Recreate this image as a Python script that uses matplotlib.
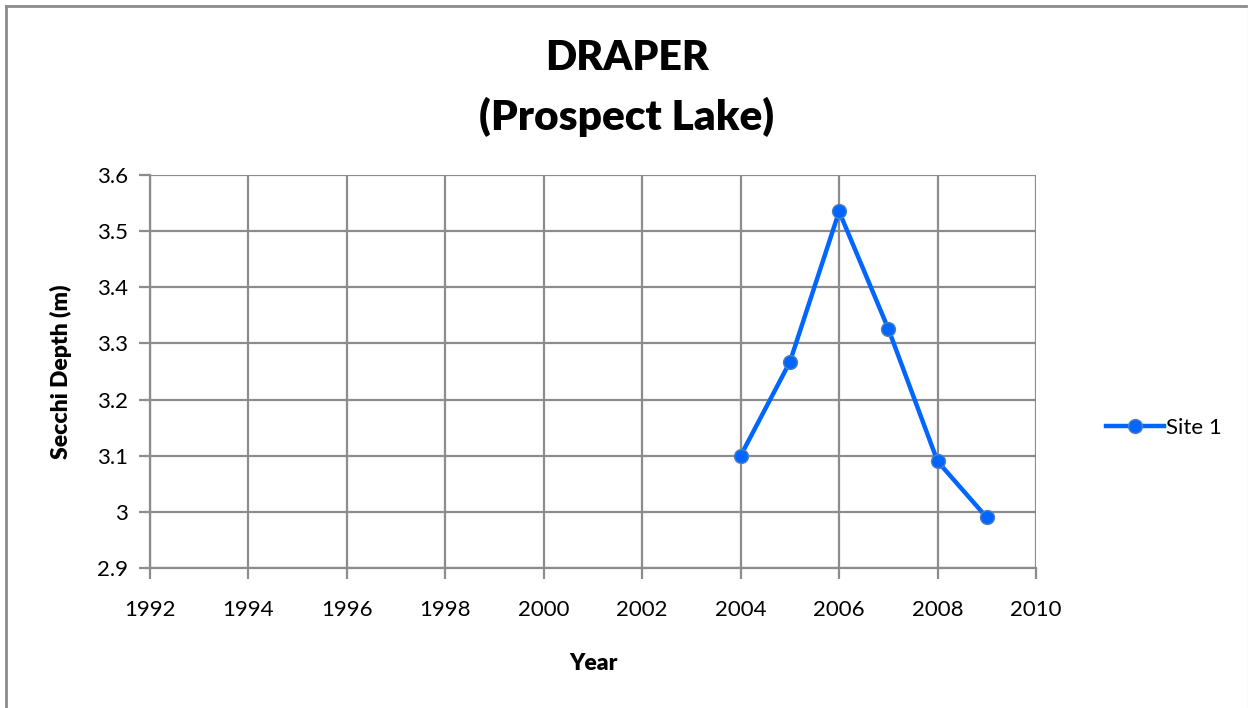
import matplotlib.pyplot as plt
from matplotlib.lines import Line2D

# Secchi depth readings, Site 1
years = [2004, 2005, 2006, 2007, 2008, 2009]
depth = [3.10, 3.267, 3.535, 3.326, 3.09, 2.99]
x_ticks = list(range(1992, 2011, 2))
y_ticks = [2.9, 3.0, 3.1, 3.2, 3.3, 3.4, 3.5, 3.6]
y_tick_labels = ['2.9', '3', '3.1', '3.2', '3.3', '3.4', '3.5', '3.6']

plt.rcParams['font.family'] = ['Lato', 'DejaVu Sans']

W, H = 1248, 708
fig = plt.figure(figsize=(W / 100, H / 100), dpi=100)

# outer chart frame (left/top visible, right faint)
fig.add_artist(Line2D([5.5 / W, 5.5 / W], [0, 1 - 5.5 / H], transform=fig.transFigure,
                      color='#8c8c8c', lw=2))
fig.add_artist(Line2D([5.5 / W, 1], [1 - 5.5 / H, 1 - 5.5 / H], transform=fig.transFigure,
                      color='#8c8c8c', lw=2))
fig.add_artist(Line2D([1247.5 / W, 1247.5 / W], [0, 1 - 5.5 / H], transform=fig.transFigure,
                      color='#ececec', lw=1))

ax = fig.add_axes([150 / W, 1 - 568 / H, 886 / W, 393 / H])

ax.plot(years, depth, color='#0066ff', lw=3.2, marker='o', markersize=10,
        markerfacecolor='#0066ff', markeredgecolor='#4f81bd', markeredgewidth=1,
        label='Site 1', zorder=3)

ax.set_xlim(1992, 2010)
ax.set_ylim(2.9, 3.6)
ax.set_xticks(x_ticks)
ax.set_yticks(y_ticks)
ax.set_yticklabels(y_tick_labels)
ax.grid(True, color='#8c8c8c', lw=1.6)
ax.set_axisbelow(True)

for side in ['top', 'right']:
    ax.spines[side].set_visible(False)
for side in ['left', 'bottom']:
    ax.spines[side].set_color('#8c8c8c')
    ax.spines[side].set_linewidth(1.6)
ax.tick_params(axis='both', direction='out', length=8, width=1.6, color='#8c8c8c',
               labelsize=16, labelcolor='black')
ax.tick_params(axis='x', pad=15)
ax.tick_params(axis='y', pad=8)

ax.set_xlabel('Year', fontsize=16.5, fontweight='heavy', labelpad=24)
ax.set_ylabel('Secchi Depth (m)', fontsize=16.5, fontweight='heavy', labelpad=18)

fig.text(627 / W, 1 - 58 / H, 'DRAPER', ha='center', va='center',
         fontsize=29.5, fontweight='heavy')
fig.text(627 / W, 1 - 117 / H, '(Prospect Lake)', ha='center', va='center',
         fontsize=30.5, fontweight='heavy')

ax.legend(loc='center left', bbox_to_anchor=(1097 / W, 1 - 428 / H),
          bbox_transform=fig.transFigure, frameon=False, fontsize=16,
          handlelength=2.6, handletextpad=0.1, borderaxespad=0)

fig.savefig('out.png', dpi=100)
